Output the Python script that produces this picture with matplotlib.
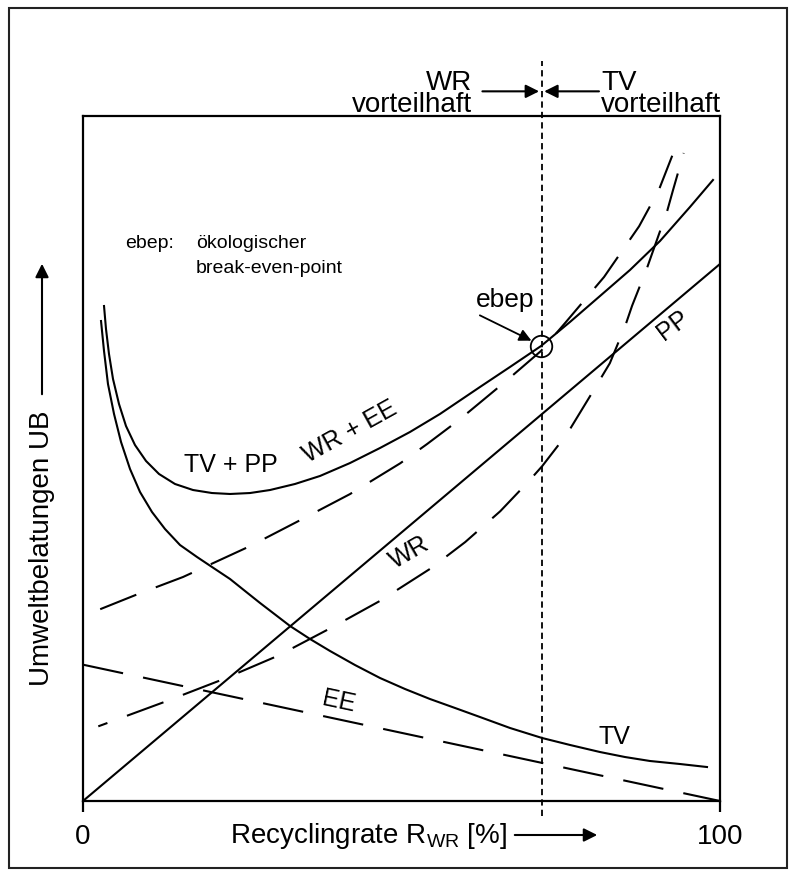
import numpy as np
import matplotlib.pyplot as plt
from matplotlib.patches import Rectangle, FancyArrowPatch

plt.rcParams['font.family'] = ['Liberation Sans', 'DejaVu Sans']
plt.rcParams['mathtext.fontset'] = 'custom'
plt.rcParams['mathtext.rm'] = 'Liberation Sans'
plt.rcParams['lines.scale_dashes'] = False

# curve values (x = Recyclingrate %, y = relative UB)
tv_x = [2.83, 3.30, 3.92, 4.87, 5.97, 7.38, 8.95, 10.83, 12.87, 15.23, 17.90,
        20.72, 23.08, 25.43, 27.79, 32.50, 35.64, 38.78, 42.70, 46.62, 50.55,
        54.47, 58.40, 62.32, 67.03, 72.06, 76.45, 81.16, 85.09, 89.01, 93.72,
        97.96]
tv_y = [70.07, 65.69, 60.88, 56.50, 52.41, 48.47, 45.11, 42.19, 39.71, 37.37,
        35.62, 33.87, 32.41, 30.66, 28.91, 25.55, 23.65, 21.90, 19.85, 17.96,
        16.35, 14.89, 13.58, 12.26, 10.66, 9.20, 8.18, 7.15, 6.42, 5.84, 5.40,
        4.96]

tvpp_x = [3.30, 3.61, 4.08, 4.71, 5.65, 6.75, 8.16, 9.89, 11.93, 14.44, 17.27,
          20.25, 23.08, 26.22, 29.36, 33.28, 37.21, 41.92, 46.62, 51.33, 56.04,
          62.32, 67.03, 71.90, 76.45, 81.16, 85.87, 90.58, 95.29, 98.90]
tvpp_y = [72.26, 68.91, 65.26, 61.61, 57.96, 54.74, 51.97, 49.64, 47.74, 46.28,
          45.40, 44.96, 44.82, 44.96, 45.40, 46.28, 47.45, 49.34, 51.53, 53.87,
          56.50, 60.44, 63.36, 66.42, 69.93, 73.72, 77.52, 81.75, 86.72, 90.66]

pp_x = [0, 100]
pp_y = [0, 78.4]

ee_x = [0, 100]
ee_y = [19.9, 0]

wr_x = [2.4, 12.9, 21.8, 30.6, 39.2, 46.6, 54.5, 60.0, 65.5, 69.9, 72.1, 76.0,
        79.6, 82.7, 85.1, 86.2, 88.5, 89.6, 91.7, 92.6, 94.3]
wr_y = [10.9, 14.5, 17.7, 21.2, 25.4, 29.2, 33.9, 37.8, 42.3, 46.6, 48.9, 53.6,
        59.1, 63.9, 69.3, 72.3, 77.7, 80.6, 86.1, 89.1, 94.6]

wree_x = [2.7, 8.6, 15.7, 26.2, 34.1, 41.9, 49.8, 54.0, 59.0, 66.4, 71.9, 75.7,
          81.8, 87.3, 90.4, 92.5]
wree_y = [28.0, 30.2, 32.7, 37.2, 41.0, 44.8, 49.3, 52.1, 55.6, 61.3, 65.7, 69.8,
          76.5, 83.9, 89.2, 94.2]

ebep = (71.9, 66.4)
x_ticks = [0, 100]
x_tick_labels = ['0', '100']

W, H = 796, 878
fig = plt.figure(figsize=(W / 100, H / 100), dpi=100)

# outer frame
fig.patches.append(Rectangle((9 / W, 1 - 869 / H), 778 / W, 860 / H,
                             transform=fig.transFigure, fill=False,
                             lw=1.5, ec='#222222'))

ax = fig.add_axes([83 / W, 1 - 802 / H, 637 / W, 685 / H])
ax.set_xlim(0, 100)
ax.set_ylim(0, 100)
for s in ax.spines.values():
    s.set_linewidth(1.6)

lw = 1.5
ax.plot(tv_x, tv_y, color='black', lw=lw)
ax.plot(tvpp_x, tvpp_y, color='black', lw=lw)
ax.plot(pp_x, pp_y, color='black', lw=lw)
ax.plot(ee_x, ee_y, color='black', lw=lw, linestyle=(0, (29.5, 14.7)))
ax.plot(wr_x, wr_y, color='black', lw=lw, linestyle=(21, (28, 15)))
ax.plot(wree_x, wree_y, color='black', lw=lw, linestyle=(0, (28, 15)))

# break-even marker and boundary line
ax.plot([ebep[0]], [ebep[1]], 'o', ms=15.5, mfc='none', mec='black', mew=1.3)
ax.plot([72, 72], [-2.2, 108], color='black', lw=1.3, linestyle=(0, (4.5, 3)),
        clip_on=False)

ax.set_xticks(x_ticks)
ax.set_xticklabels(x_tick_labels)
ax.set_yticks([])
ax.tick_params(axis='x', direction='out', length=8, width=1.6, pad=8,
               labelsize=20)

# curve labels
lab = dict(fontsize=18, ha='center', va='center')
ax.text(23.2, 49.2, 'TV + PP', **lab)
ax.text(41.9, 54.0, 'WR + EE', rotation=29, **lab)
ax.text(51.3, 36.4, 'WR', rotation=30, **lab)
ax.text(40.2, 14.6, 'EE', rotation=-12, **lab)
ax.text(92.6, 69.6, 'PP', rotation=37, **lab)
ax.text(83.4, 9.5, 'TV', **lab)
ax.text(66.2, 73.3, 'ebep', fontsize=19, ha='center', va='center')
ax.annotate('', xy=(70.4, 67.2), xytext=(62.3, 70.9),
            arrowprops=dict(arrowstyle='-|>', color='black', lw=1.3,
                            mutation_scale=18, shrinkA=0, shrinkB=0))

ax.text(6.6, 81.6, 'ebep:', fontsize=14, va='center')
ax.text(17.7, 81.6, 'ökologischer', fontsize=14, va='center')
ax.text(17.7, 77.9, 'break-even-point', fontsize=14, va='center')

# top annotation
ax.text(61.1, 103.4, 'WR\nvorteilhaft', fontsize=20, ha='right', va='center',
        multialignment='right', linespacing=0.8, clip_on=False)
ax.text(81.3, 103.4, 'TV\nvorteilhaft', fontsize=20, ha='left', va='center',
        multialignment='left', linespacing=0.8, clip_on=False)
arr = dict(arrowstyle='-|>', color='black', lw=1.5, mutation_scale=20,
           shrinkA=0, shrinkB=0)
ax.annotate('', xy=(71.6, 103.6), xytext=(62.7, 103.6), arrowprops=arr,
            annotation_clip=False)
ax.annotate('', xy=(72.4, 103.6), xytext=(81.0, 103.6), arrowprops=arr,
            annotation_clip=False)

# axis titles with arrows
fig.text(369 / W, 1 - 836 / H, r'Recyclingrate $\mathrm{R_{WR}}$ [%]',
         fontsize=20, ha='center', va='center')
fig.patches.append(FancyArrowPatch(
    (512 / W, 1 - 836 / H), (600 / W, 1 - 836 / H), transform=fig.transFigure,
    arrowstyle='-|>', mutation_scale=20, color='black', lw=1.5))

fig.text(42 / W, 1 - 548 / H, 'Umweltbelatungen UB', fontsize=20,
         rotation=90, ha='center', va='center')
fig.patches.append(FancyArrowPatch(
    (42 / W, 1 - 398 / H), (42 / W, 1 - 262 / H), transform=fig.transFigure,
    arrowstyle='-|>', mutation_scale=20, color='black', lw=1.5))

fig.savefig('out.png', dpi=100)
